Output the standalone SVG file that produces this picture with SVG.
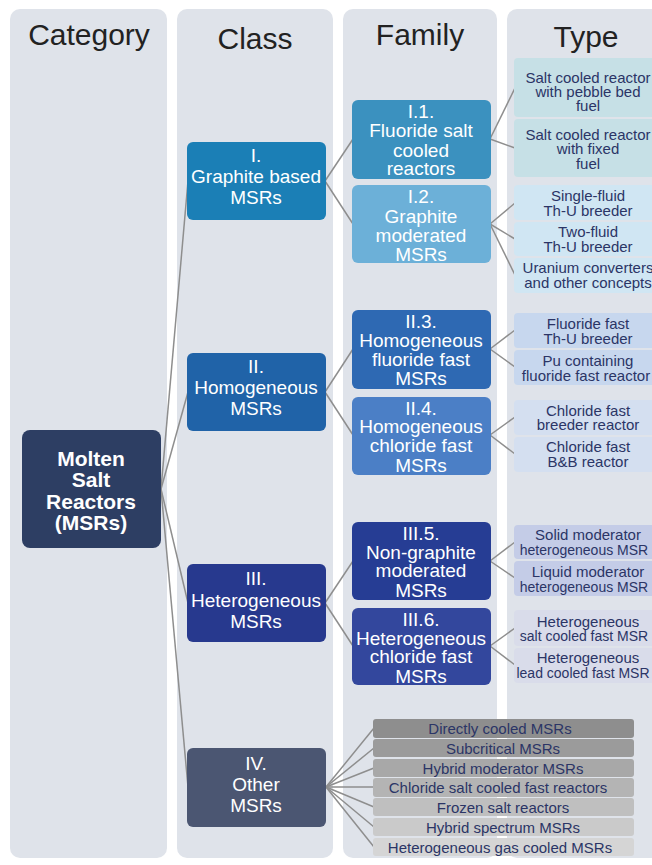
<svg xmlns="http://www.w3.org/2000/svg" width="652" height="865" viewBox="0 0 652 865">
  <style>
    .col { fill: #dfe3ea; }
    .hdr { font-family: "Liberation Sans", Arial, sans-serif; font-size: 30px; fill: #222; text-anchor: middle; }
    .edge { stroke: #8e8e8e; stroke-width: 1.5; fill: none; }
    .cat rect { fill: #2d3e63; }
    .cat text { font-family: "Liberation Sans", Arial, sans-serif; font-weight: bold; font-size: 21px; fill: #fff; text-anchor: middle; }
    .cls text { font-family: "Liberation Sans", Arial, sans-serif; font-size: 19px; fill: #fff; text-anchor: middle; }
    .fam text { font-family: "Liberation Sans", Arial, sans-serif; font-size: 19px; fill: #fff; text-anchor: middle; }
    .typ text { font-family: "Liberation Sans", Arial, sans-serif; font-size: 15px; fill: #2b3566; text-anchor: middle; }
    .typ text.long { font-size: 14px; }
    .oth text { font-family: "Liberation Sans", Arial, sans-serif; font-size: 15px; fill: #2b3566; text-anchor: middle; }
  </style>

  <rect width="652" height="865" fill="#ffffff"/>

  <!-- column panels -->
  <g id="columns">
    <rect class="col" x="10" y="9" width="157" height="849" rx="10"/>
    <rect class="col" x="177" y="9" width="156" height="849" rx="10"/>
    <rect class="col" x="343" y="9" width="154" height="849" rx="10"/>
    <rect class="col" x="507" y="9" width="160" height="849" rx="10"/>
    <text class="hdr" x="89" y="45">Category</text>
    <text class="hdr" x="255" y="49">Class</text>
    <text class="hdr" x="420" y="45">Family</text>
    <text class="hdr" x="586" y="47">Type</text>
  </g>

  <!-- connectors -->
  <g id="connectors" class="edge">
    <!-- category to classes -->
    <line x1="161" y1="489" x2="188" y2="181"/>
    <line x1="161" y1="489" x2="188" y2="392"/>
    <line x1="161" y1="489" x2="188" y2="603"/>
    <line x1="161" y1="489" x2="188" y2="787"/>
    <!-- classes to families -->
    <line x1="325" y1="181" x2="353" y2="139"/>
    <line x1="325" y1="181" x2="353" y2="224"/>
    <line x1="325" y1="392" x2="353" y2="349"/>
    <line x1="325" y1="392" x2="353" y2="435"/>
    <line x1="325" y1="603" x2="353" y2="561"/>
    <line x1="325" y1="603" x2="353" y2="646"/>
    <!-- families to types -->
    <line x1="490" y1="139" x2="515" y2="88"/>
    <line x1="490" y1="139" x2="515" y2="148"/>
    <line x1="490" y1="224" x2="515" y2="203"/>
    <line x1="490" y1="224" x2="515" y2="239"/>
    <line x1="490" y1="224" x2="515" y2="275"/>
    <line x1="490" y1="349" x2="515" y2="330"/>
    <line x1="490" y1="349" x2="515" y2="367"/>
    <line x1="490" y1="435" x2="515" y2="417"/>
    <line x1="490" y1="435" x2="515" y2="454"/>
    <line x1="490" y1="561" x2="515" y2="542"/>
    <line x1="490" y1="561" x2="515" y2="578"/>
    <line x1="490" y1="646" x2="515" y2="628"/>
    <line x1="490" y1="646" x2="515" y2="665"/>
    <!-- other MSRs to list -->
    <line x1="326" y1="787" x2="374" y2="728"/>
    <line x1="326" y1="787" x2="374" y2="748"/>
    <line x1="326" y1="787" x2="374" y2="768"/>
    <line x1="326" y1="787" x2="374" y2="787"/>
    <line x1="326" y1="787" x2="374" y2="807"/>
    <line x1="326" y1="787" x2="374" y2="827"/>
    <line x1="326" y1="787" x2="374" y2="847"/>
  </g>

  <!-- category -->
  <g id="msr" class="cat">
    <rect x="22" y="430" width="139" height="118" rx="8"/>
    <text x="91" y="466">Molten</text>
    <text x="91" y="487">Salt</text>
    <text x="91" y="509">Reactors</text>
    <text x="91" y="530">(MSRs)</text>
  </g>

  <!-- classes -->
  <g id="class-1" class="cls">
    <rect x="187" y="142" width="139" height="78" rx="6" fill="#1b7fb6"/>
    <text x="256" y="162">I.</text>
    <text x="256" y="183">Graphite based</text>
    <text x="256" y="204">MSRs</text>
  </g>
  <g id="class-2" class="cls">
    <rect x="187" y="353" width="139" height="78" rx="6" fill="#2063a8"/>
    <text x="256" y="373">II.</text>
    <text x="256" y="394">Homogeneous</text>
    <text x="256" y="415">MSRs</text>
  </g>
  <g id="class-3" class="cls">
    <rect x="187" y="564" width="139" height="78" rx="6" fill="#27398e"/>
    <text x="256" y="585">III.</text>
    <text x="256" y="607">Heterogeneous</text>
    <text x="256" y="628">MSRs</text>
  </g>
  <g id="class-4" class="cls">
    <rect x="187" y="748" width="139" height="79" rx="6" fill="#4b5672"/>
    <text x="256" y="770">IV.</text>
    <text x="256" y="791">Other</text>
    <text x="256" y="812">MSRs</text>
  </g>

  <!-- families -->
  <g id="family-1-1" class="fam">
    <rect x="352" y="100" width="139" height="79" rx="6" fill="#3b91bf"/>
    <text x="421" y="118">I.1.</text>
    <text x="421" y="137">Fluoride salt</text>
    <text x="421" y="157">cooled</text>
    <text x="421" y="175">reactors</text>
  </g>
  <g id="family-1-2" class="fam">
    <rect x="352" y="185" width="139" height="78" rx="6" fill="#6cb0d8"/>
    <text x="421" y="203">I.2.</text>
    <text x="421" y="223">Graphite</text>
    <text x="421" y="242">moderated</text>
    <text x="421" y="261">MSRs</text>
  </g>
  <g id="family-2-3" class="fam">
    <rect x="352" y="310" width="139" height="79" rx="6" fill="#2e69b3"/>
    <text x="421" y="328">II.3.</text>
    <text x="421" y="347">Homogeneous</text>
    <text x="421" y="366">fluoride fast</text>
    <text x="421" y="385">MSRs</text>
  </g>
  <g id="family-2-4" class="fam">
    <rect x="352" y="397" width="139" height="78" rx="6" fill="#4b7fc6"/>
    <text x="421" y="415">II.4.</text>
    <text x="421" y="433">Homogeneous</text>
    <text x="421" y="452">chloride fast</text>
    <text x="421" y="472">MSRs</text>
  </g>
  <g id="family-3-5" class="fam">
    <rect x="352" y="522" width="139" height="78" rx="6" fill="#263d94"/>
    <text x="421" y="540">III.5.</text>
    <text x="421" y="559">Non-graphite</text>
    <text x="421" y="577">moderated</text>
    <text x="421" y="597">MSRs</text>
  </g>
  <g id="family-3-6" class="fam">
    <rect x="352" y="608" width="139" height="77" rx="6" fill="#33479d"/>
    <text x="421" y="626">III.6.</text>
    <text x="421" y="645">Heterogeneous</text>
    <text x="421" y="663">chloride fast</text>
    <text x="421" y="683">MSRs</text>
  </g>

  <!-- types -->
  <g id="type-pebble" class="typ">
    <rect x="514" y="58" width="150" height="59" rx="4" fill="#c6e0e6"/>
    <text x="588" y="83">Salt cooled reactor</text>
    <text x="588" y="97">with pebble bed</text>
    <text x="588" y="111">fuel</text>
  </g>
  <g id="type-fixed" class="typ">
    <rect x="514" y="119" width="150" height="58" rx="4" fill="#c6e0e6"/>
    <text x="588" y="140">Salt cooled reactor</text>
    <text x="588" y="154">with fixed</text>
    <text x="588" y="169">fuel</text>
  </g>
  <g id="type-single-fluid" class="typ">
    <rect x="514" y="185" width="150" height="35" rx="4" fill="#d0e6f3"/>
    <text x="588" y="201">Single-fluid</text>
    <text x="588" y="216">Th-U breeder</text>
  </g>
  <g id="type-two-fluid" class="typ">
    <rect x="514" y="222" width="150" height="34" rx="4" fill="#d0e6f3"/>
    <text x="588" y="237">Two-fluid</text>
    <text x="588" y="252">Th-U breeder</text>
  </g>
  <g id="type-uranium" class="typ">
    <rect x="514" y="258" width="150" height="35" rx="4" fill="#d0e6f3"/>
    <text x="588" y="273">Uranium converters</text>
    <text x="588" y="288">and other concepts</text>
  </g>
  <g id="type-fluoride-fast" class="typ">
    <rect x="514" y="313" width="150" height="35" rx="4" fill="#c7d7ee"/>
    <text x="588" y="329">Fluoride fast</text>
    <text x="588" y="344">Th-U breeder</text>
  </g>
  <g id="type-pu" class="typ">
    <rect x="514" y="350" width="150" height="35" rx="4" fill="#c7d7ee"/>
    <text x="588" y="366">Pu containing</text>
    <text x="586" y="381">fluoride fast reactor</text>
  </g>
  <g id="type-chloride-breeder" class="typ">
    <rect x="514" y="400" width="150" height="35" rx="4" fill="#d4dff0"/>
    <text x="588" y="416">Chloride fast</text>
    <text x="588" y="430">breeder reactor</text>
  </g>
  <g id="type-chloride-bb" class="typ">
    <rect x="514" y="437" width="150" height="35" rx="4" fill="#d4dff0"/>
    <text x="588" y="452">Chloride fast</text>
    <text x="588" y="467">B&amp;B reactor</text>
  </g>
  <g id="type-solid-mod" class="typ">
    <rect x="514" y="525" width="150" height="34" rx="4" fill="#c4cce7"/>
    <text x="588" y="540">Solid moderator</text>
    <text class="long" x="584" y="555">heterogeneous MSR</text>
  </g>
  <g id="type-liquid-mod" class="typ">
    <rect x="514" y="561" width="150" height="35" rx="4" fill="#c4cce7"/>
    <text x="588" y="577">Liquid moderator</text>
    <text class="long" x="584" y="592">heterogeneous MSR</text>
  </g>
  <g id="type-het-salt" class="typ">
    <rect x="514" y="610" width="150" height="36" rx="4" fill="#d9dcea"/>
    <text x="588" y="627">Heterogeneous</text>
    <text class="long" x="584" y="641">salt cooled fast MSR</text>
  </g>
  <g id="type-het-lead" class="typ">
    <rect x="514" y="648" width="150" height="35" rx="4" fill="#d9dcea"/>
    <text x="588" y="663">Heterogeneous</text>
    <text class="long" x="583" y="678">lead cooled fast MSR</text>
  </g>

  <!-- other MSR concepts -->
  <g id="other-direct" class="oth">
    <rect x="373" y="719" width="261" height="19" rx="3" fill="#8e8e8e"/>
    <text x="500" y="734">Directly cooled MSRs</text>
  </g>
  <g id="other-subcritical" class="oth">
    <rect x="373" y="739" width="261" height="18" rx="3" fill="#9b9b9b"/>
    <text x="503" y="754">Subcritical MSRs</text>
  </g>
  <g id="other-hybrid-mod" class="oth">
    <rect x="373" y="759" width="261" height="18" rx="3" fill="#a8a8a8"/>
    <text x="503" y="774">Hybrid moderator MSRs</text>
  </g>
  <g id="other-chloride" class="oth">
    <rect x="373" y="778" width="261" height="19" rx="3" fill="#b4b4b4"/>
    <text x="498" y="793">Chloride salt cooled fast reactors</text>
  </g>
  <g id="other-frozen" class="oth">
    <rect x="373" y="798" width="261" height="18" rx="3" fill="#bfbfbf"/>
    <text x="503" y="813">Frozen salt reactors</text>
  </g>
  <g id="other-hybrid-spec" class="oth">
    <rect x="373" y="818" width="261" height="18" rx="3" fill="#cacaca"/>
    <text x="503" y="833">Hybrid spectrum MSRs</text>
  </g>
  <g id="other-gas" class="oth">
    <rect x="373" y="838" width="261" height="18" rx="3" fill="#d5d5d5"/>
    <text x="500" y="853">Heterogeneous gas cooled MSRs</text>
  </g>
</svg>
